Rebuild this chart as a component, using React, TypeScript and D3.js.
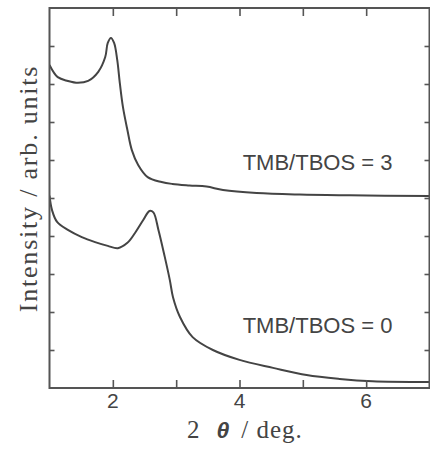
import React, { useRef, useEffect } from 'react';
import * as d3 from 'd3';

// 2θ (deg) and intensity
const xTicks = [2, 3, 4, 5, 6];
const xLabels = [2, 4, 6];
const yTicks = [1, 2, 3, 4, 5, 6, 7, 8, 9];

const tmb3X = [1.0, 1.13, 1.29, 1.45, 1.61, 1.77, 1.88, 1.92, 1.97, 2.02, 2.07, 2.11, 2.16, 2.23, 2.3, 2.4, 2.55, 2.77, 2.94, 3.21, 3.48, 3.74, 4.27, 4.95, 5.74, 7.0];
const tmb3Y = [8.5, 8.18, 8.08, 8.03, 8.08, 8.32, 8.71, 9.08, 9.21, 9.08, 8.63, 8.03, 7.39, 6.79, 6.26, 5.87, 5.55, 5.42, 5.37, 5.33, 5.3, 5.21, 5.13, 5.09, 5.07, 5.05];

const tmb0X = [1.0, 1.04, 1.12, 1.29, 1.51, 1.72, 1.92, 2.08, 2.23, 2.35, 2.48, 2.58, 2.64, 2.72, 2.82, 2.9, 2.95, 3.06, 3.26, 3.58, 4.0, 4.53, 5.06, 5.58, 6.1, 7.0];
const tmb0Y = [5.06, 4.68, 4.37, 4.16, 3.97, 3.84, 3.74, 3.68, 3.82, 4.08, 4.42, 4.66, 4.62, 4.16, 3.45, 2.84, 2.39, 1.87, 1.34, 1.0, 0.74, 0.53, 0.34, 0.24, 0.18, 0.16];

const labels = ['TMB/TBOS = 3', 'TMB/TBOS = 0'];

const W = 430;
const H = 452;

export default function App() {
  const svgRef = useRef<SVGSVGElement>(null);

  useEffect(() => {
    const svg = d3.select(svgRef.current);
    svg.selectAll('*').remove();

    const left = 49.5, right = 429.5, top = 8, bottom = 388;
    const x = d3.scaleLinear().domain([1, 7]).range([left, right]);
    const y = d3.scaleLinear().domain([0, 10]).range([bottom, top]);
    const axisColor = '#555';
    const textColor = '#444';

    const series = [
      d3.zip(tmb3X, tmb3Y),
      d3.zip(tmb0X, tmb0Y),
    ];
    const line = d3.line<number[]>()
      .x(d => x(d[0]))
      .y(d => y(d[1]))
      .curve(d3.curveCatmullRom.alpha(0.5));

    svg.append('clipPath').attr('id', 'plot')
      .append('rect').attr('x', left).attr('y', top)
      .attr('width', right - left).attr('height', bottom - top);

    svg.append('g').attr('clip-path', 'url(#plot)')
      .selectAll('path').data(series).enter().append('path')
      .attr('d', d => line(d))
      .attr('fill', 'none')
      .attr('stroke', '#444')
      .attr('stroke-width', 2);

    // ticks, all pointing inward
    const bottomAxis = d3.axisBottom(x).tickValues(xTicks).tickSize(-8).tickFormat(() => '');
    const topAxis = d3.axisTop(x).tickValues(xTicks).tickSize(-8).tickFormat(() => '');
    const leftAxis = d3.axisLeft(y).tickValues(yTicks).tickSize(-5).tickFormat(() => '');
    const rightAxis = d3.axisRight(y).tickValues(yTicks).tickSize(-5).tickFormat(() => '');

    const axes = [
      svg.append('g').attr('transform', `translate(0,${bottom})`).call(bottomAxis),
      svg.append('g').attr('transform', `translate(0,${top})`).call(topAxis),
      svg.append('g').attr('transform', `translate(${left},0)`).call(leftAxis),
      svg.append('g').attr('transform', `translate(${right},0)`).call(rightAxis),
    ];
    axes.forEach(g => {
      g.select('.domain').remove();
      g.selectAll('line').attr('stroke', axisColor).attr('stroke-width', 1.6);
    });

    svg.append('rect')
      .attr('x', left).attr('y', top)
      .attr('width', right - left).attr('height', bottom - top)
      .attr('fill', 'none').attr('stroke', axisColor).attr('stroke-width', 2);

    svg.append('g').selectAll('text').data(xLabels).enter().append('text')
      .attr('x', d => x(d))
      .attr('y', bottom + 20)
      .attr('text-anchor', 'middle')
      .attr('font-family', 'Liberation Sans, Arial, sans-serif')
      .attr('font-size', 21)
      .attr('fill', textColor)
      .text(d => d);

    // series labels
    const labelPos = [[4.05, 5.75], [4.05, 1.45]];
    svg.append('g').selectAll('text').data(labels).enter().append('text')
      .attr('x', (d, i) => x(labelPos[i][0]))
      .attr('y', (d, i) => y(labelPos[i][1]))
      .attr('font-family', 'Liberation Sans, Arial, sans-serif')
      .attr('font-size', 22)
      .attr('fill', textColor)
      .text(d => d);

    // x title
    const xt = svg.append('text')
      .attr('x', 187).attr('y', 438)
      .attr('font-family', 'Liberation Serif, Times New Roman, serif')
      .attr('font-size', 25)
      .attr('fill', textColor);
    xt.append('tspan').text('2');
    xt.append('tspan').attr('dx', 17)
      .attr('font-family', 'Liberation Sans, Arial, sans-serif')
      .attr('font-weight', 'bold').attr('font-style', 'italic')
      .attr('font-size', 23)
      .text('θ');
    xt.append('tspan').attr('dx', 12).attr('letter-spacing', 1).text('/ deg.');

    // y title
    svg.append('text')
      .attr('transform', `translate(37,${(60 + 317) / 2}) rotate(-90)`)
      .attr('text-anchor', 'middle')
      .attr('font-family', 'Liberation Serif, Times New Roman, serif')
      .attr('font-size', 26)
      .attr('letter-spacing', 1.8)
      .attr('fill', textColor)
      .text('Intensity / arb. units');
  }, []);

  return (
    <svg
      ref={svgRef}
      width={W}
      height={H}
      style={{ position: 'absolute', left: 0, top: 0, background: '#fff' }}
    />
  );
}
